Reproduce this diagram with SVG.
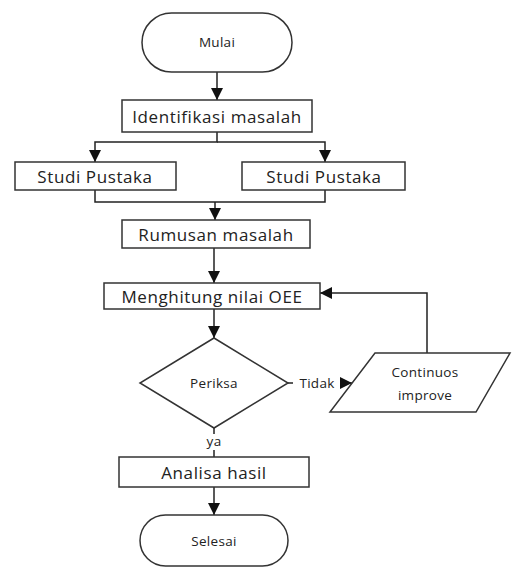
<svg xmlns="http://www.w3.org/2000/svg" width="512" height="571" viewBox="0 0 512 571">
<defs>
<style>
.n{fill:#fff;stroke:#333;stroke-width:1.5}
.c{fill:none;stroke:#222;stroke-width:1.5}
.t{font-family:"Open Sans","Noto Sans",sans-serif;fill:#222;text-anchor:middle;dominant-baseline:central}
.big{font-size:17px;letter-spacing:0.6px}
.sm{font-size:13.5px;letter-spacing:0.3px}
</style>
<marker id="ah" viewBox="0 0 12 12" refX="12" refY="6" markerWidth="12" markerHeight="12" markerUnits="userSpaceOnUse" orient="auto">
<path d="M0,0 L12,6 L0,12 Z" fill="#111"/>
</marker>
</defs>
<rect width="512" height="571" fill="#fff"/>
<g id="connectors">
<line class="c" x1="217" y1="72" x2="217" y2="100" marker-end="url(#ah)"/>
<polyline class="c" points="217,132 217,142 95,142 95,162" marker-end="url(#ah)"/>
<polyline class="c" points="217,142 325,142 325,162" marker-end="url(#ah)"/>
<polyline class="c" points="95,190 95,202 325,202 325,190"/>
<line class="c" x1="215" y1="202" x2="215" y2="220" marker-end="url(#ah)"/>
<line class="c" x1="214" y1="248" x2="214" y2="283" marker-end="url(#ah)"/>
<line class="c" x1="214" y1="309" x2="214" y2="338" marker-end="url(#ah)"/>
<line class="c" x1="288" y1="383" x2="352" y2="383" marker-end="url(#ah)"/>
<polyline class="c" points="427,353 427,293 320,293" marker-end="url(#ah)"/>
<line class="c" x1="214" y1="428" x2="214" y2="457"/>
<line class="c" x1="214" y1="487" x2="214" y2="515" marker-end="url(#ah)"/>
<rect x="293" y="375" width="47" height="16" fill="#fff"/>
<text class="t sm" x="317" y="383">Tidak</text>
<rect x="205" y="434" width="18" height="16" fill="#fff"/>
<text class="t sm" x="214" y="441">ya</text>
</g>
<g id="mulai">
<rect class="n" x="142" y="13" width="150" height="59" rx="29.5"/>
<text class="t sm" x="217" y="42">Mulai</text>
</g>
<g id="identifikasi">
<rect class="n" x="122" y="100" width="190" height="32"/>
<text class="t big" x="217" y="116">Identifikasi masalah</text>
</g>
<g id="studi1">
<rect class="n" x="15" y="162" width="161" height="28"/>
<text class="t big" x="95" y="176">Studi Pustaka</text>
</g>
<g id="studi2">
<rect class="n" x="242" y="162" width="163" height="28"/>
<text class="t big" x="324" y="176">Studi Pustaka</text>
</g>
<g id="rumusan">
<rect class="n" x="122" y="220" width="188" height="28"/>
<text class="t big" x="216" y="234">Rumusan masalah</text>
</g>
<g id="menghitung">
<rect class="n" x="104" y="283" width="216" height="26"/>
<text class="t big" x="212" y="296">Menghitung nilai OEE</text>
</g>
<g id="periksa">
<polygon class="n" points="214,338 288,383 214,428 140,383"/>
<text class="t sm" x="214" y="383">Periksa</text>
</g>
<g id="continuos">
<polygon class="n" points="375,353 510,353 476,412 330,412"/>
<text class="t sm" x="425" y="372">Continuos</text>
<text class="t sm" x="425" y="395">improve</text>
</g>
<g id="analisa">
<rect class="n" x="119" y="457" width="190" height="30"/>
<text class="t big" x="214" y="472">Analisa hasil</text>
</g>
<g id="selesai">
<rect class="n" x="140" y="515" width="148" height="51" rx="25.5"/>
<text class="t sm" x="214" y="541">Selesai</text>
</g>
</svg>
